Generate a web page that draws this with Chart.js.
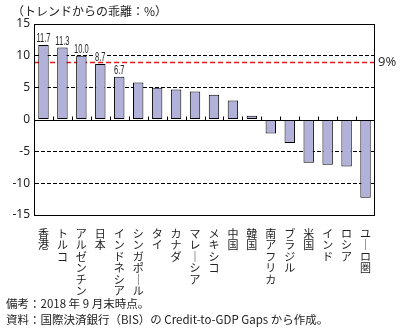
<!DOCTYPE html>
<html lang="ja">
<head>
<meta charset="utf-8">
<script src="https://cdn.jsdelivr.net/npm/chart.js@4/dist/chart.umd.min.js"></script>
<style>
  html, body { margin: 0; padding: 0; background: #fff; }
  #wrap { position: relative; width: 400px; height: 332px; }
  #chart { position: absolute; left: 0; top: 0; }
  .note {
    position: absolute; left: 6px; white-space: nowrap;
    font-family: "Noto Sans CJK JP", sans-serif; font-size: 11.5px; color: #222;
  }
</style>
</head>
<body>
<div id="wrap">
  <canvas id="chart" width="400" height="332"></canvas>
  <div class="note" style="left:12px; top:2px; font-size:12px;">（トレンドからの乖離：%）</div>
  <div class="note" style="top:295px;">備考：2018 年 9 月末時点。</div>
  <div class="note" style="top:311px;">資料：国際決済銀行（BIS）の Credit-to-GDP Gaps から作成。</div>
</div>
<script>
// Credit-to-GDP gap by country/region (deviation from trend, %)
const countries = [
    '香港', 'トルコ', 'アルゼンチン', '日本', 'インドネシア', 'シンガポール',
    'タイ', 'カナダ', 'マレーシア', 'メキシコ', '中国', '韓国',
    '南アフリカ', 'ブラジル', '米国', 'インド', 'ロシア', 'ユーロ圏'
];
const gaps = [11.7, 11.3, 10.0, 8.7, 6.7, 5.8, 5.0, 4.7, 4.4, 3.9, 3.0, 0.6,
    -2.2, -3.7, -6.8, -7.1, -7.4, -12.3];
const labelledCount = 5;   // first bars carry their value on top
const yTicks = [15, 10, 5, 0, -5, -10, -15];
const threshold = 9;
const thresholdLabel = '9%';

// Frame, zero line with boundary ticks, threshold line and value labels
const overlayPlugin = {
    id: 'overlay',
    beforeDatasetsDraw(chart) {
        const { ctx, chartArea, scales: { y } } = chart;
        ctx.save();
        const ty = Math.round(y.getPixelForValue(threshold)) + 0.5;
        ctx.strokeStyle = '#e8141c';
        ctx.lineWidth = 1.5;
        ctx.setLineDash([5, 3]);
        ctx.beginPath();
        ctx.moveTo(chartArea.left, ty);
        ctx.lineTo(chartArea.right, ty);
        ctx.stroke();
        ctx.restore();
    },
    afterDatasetsDraw(chart) {
        const { ctx, chartArea, scales: { x, y } } = chart;
        ctx.save();
        const zy = Math.round(y.getPixelForValue(0)) + 0.5;
        ctx.strokeStyle = '#000';
        ctx.lineWidth = 1;
        ctx.setLineDash([]);
        ctx.beginPath();
        ctx.moveTo(chartArea.left, zy);
        ctx.lineTo(chartArea.right, zy);
        for (let i = 0; i < countries.length - 1; i++) {
            const bx = Math.round(x.getPixelForValue(i + 0.5)) + 0.5;
            ctx.moveTo(bx, zy);
            ctx.lineTo(bx, zy - 4);
        }
        ctx.stroke();
        ctx.strokeRect(Math.round(chartArea.left) + 0.5, Math.round(chartArea.top) + 0.5,
            Math.round(chartArea.right - chartArea.left) - 1, Math.round(chartArea.bottom - chartArea.top));

        // condensed value labels on a white backing
        ctx.font = '13px "Liberation Sans", sans-serif';
        ctx.textAlign = 'center';
        ctx.textBaseline = 'alphabetic';
        const sx = 0.58;
        for (let i = 0; i < labelledCount; i++) {
            const text = gaps[i].toFixed(1);
            const w = ctx.measureText(text).width * sx;
            const px = x.getPixelForValue(i);
            const py = y.getPixelForValue(gaps[i]) - 3;
            ctx.fillStyle = '#fff';
            ctx.fillRect(px - w / 2 - 1, py - 10, w + 2, 10);
            ctx.save();
            ctx.translate(px, py);
            ctx.scale(sx, 1);
            ctx.fillStyle = '#222';
            ctx.fillText(text, 0, 0);
            ctx.restore();
        }

        ctx.font = '13px "Noto Sans", sans-serif';
        ctx.textAlign = 'left';
        ctx.textBaseline = 'middle';
        ctx.fillStyle = '#333';
        ctx.fillText(thresholdLabel, chartArea.right + 3, y.getPixelForValue(threshold));
        ctx.restore();
    }
};

const ctx = document.getElementById('chart').getContext('2d');
new Chart(ctx, {
    type: 'bar',
    data: {
        labels: countries,
        datasets: [{
            data: gaps,
            backgroundColor: '#b1b1d9',
            borderColor: '#000',
            borderWidth: 1,
            borderSkipped: false,
            barPercentage: 0.55,
            categoryPercentage: 1
        }]
    },
    options: {
        responsive: false,
        animation: false,
        layout: { padding: { top: 24, right: 25, left: 0, bottom: 0 } },
        plugins: {
            legend: { display: false },
            tooltip: { enabled: false }
        },
        scales: {
            x: {
                grid: { display: false },
                border: { display: false },
                ticks: {
                    autoSkip: false,
                    maxRotation: 0,
                    padding: 5,
                    color: '#222',
                    font: { family: '"Noto Sans CJK JP", sans-serif', size: 11, lineHeight: 1.04 },
                    // stack each character to read top-to-bottom
                    callback: function(value) {
                        return Array.from(countries[value].replace(/ー/g, '｜'));
                    }
                },
                afterFit(scale) { scale.height = 117; }
            },
            y: {
                min: -15,
                max: 15,
                afterBuildTicks(scale) { scale.ticks = yTicks.map(v => ({ value: v })); },
                grid: {
                    drawTicks: false,
                    color: c => (c.tick && Math.abs(c.tick.value) !== 15 && c.tick.value !== 0) ? '#000' : 'rgba(0,0,0,0)',
                    lineWidth: 1
                },
                border: { display: true, color: '#000', dash: [4, 2] },
                ticks: {
                    padding: 4,
                    color: '#222',
                    font: { family: '"Noto Sans", sans-serif', size: 12 }
                },
                afterFit(scale) { scale.width = 34; }
            }
        }
    },
    plugins: [overlayPlugin]
});
</script>
</body>
</html>
